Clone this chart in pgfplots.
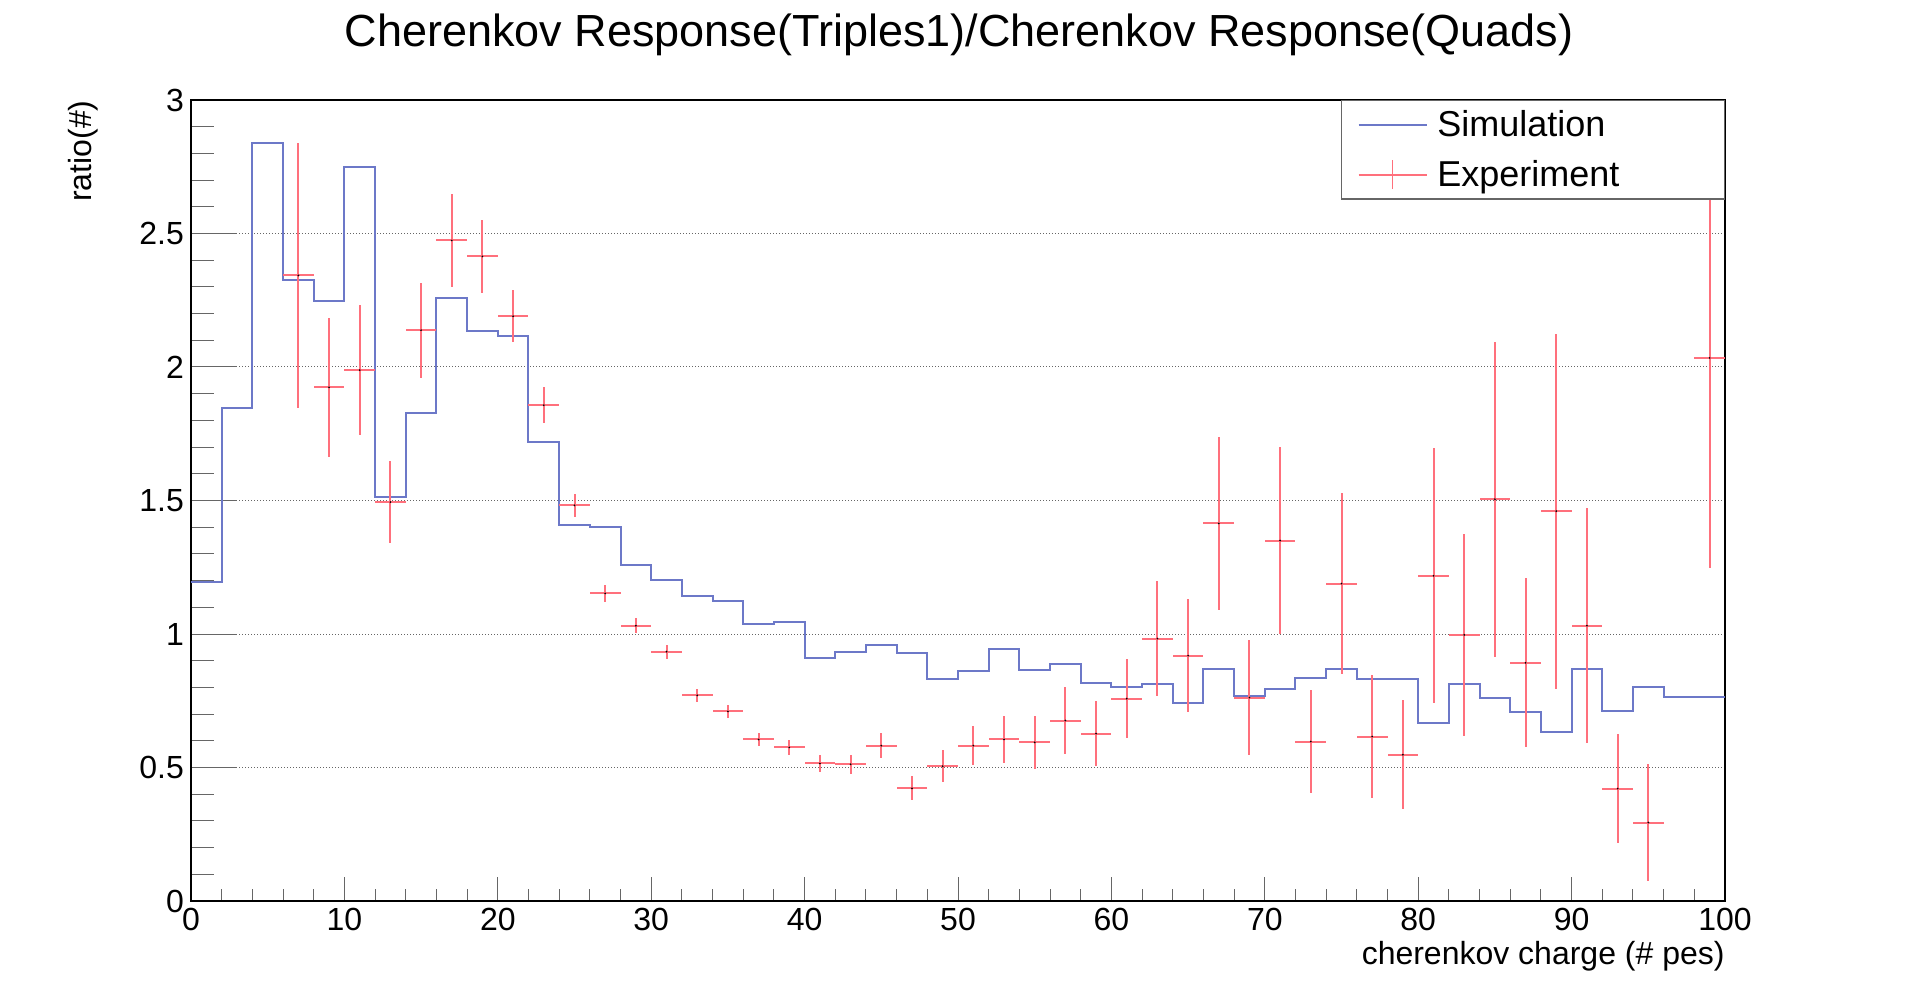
\documentclass[border=0pt]{standalone}
\usepackage{pgfplots}
\pgfplotsset{compat=1.18}
\usepackage{pgfplotstable}
\usepackage{fontspec}
\setmainfont{Liberation Sans}
\definecolor{simblue}{RGB}{108,120,200}
\definecolor{expred}{RGB}{255,112,124}

\pgfplotstableread{
x y
0 1.196
2 1.845
4 2.840
6 2.324
8 2.246
10 2.749
12 1.512
14 1.827
16 2.259
18 2.133
20 2.115
22 1.718
24 1.407
26 1.402
28 1.259
30 1.203
32 1.143
34 1.124
36 1.036
38 1.044
40 0.911
42 0.934
44 0.960
46 0.930
48 0.833
50 0.863
52 0.942
54 0.867
56 0.888
58 0.815
60 0.803
62 0.811
64 0.743
66 0.870
68 0.766
70 0.795
72 0.837
74 0.870
76 0.832
78 0.832
80 0.667
82 0.813
84 0.761
86 0.708
88 0.634
90 0.868
92 0.711
94 0.801
96 0.765
98 0.765
100 0.765
}\simdata

\pgfplotstableread{
x y ex ey
7 2.343 1 0.495
9 1.924 1 0.261
11 1.988 1 0.243
13 1.494 1 0.153
15 2.138 1 0.178
17 2.474 1 0.173
19 2.414 1 0.135
21 2.190 1 0.097
23 1.857 1 0.067
25 1.482 1 0.044
27 1.152 1 0.031
29 1.031 1 0.028
31 0.934 1 0.026
33 0.770 1 0.024
35 0.710 1 0.024
37 0.605 1 0.024
39 0.575 1 0.028
41 0.515 1 0.030
43 0.512 1 0.036
45 0.582 1 0.047
47 0.422 1 0.045
49 0.505 1 0.060
51 0.582 1 0.074
53 0.605 1 0.089
55 0.594 1 0.098
57 0.676 1 0.125
59 0.627 1 0.121
61 0.758 1 0.148
63 0.983 1 0.215
65 0.919 1 0.213
67 1.414 1 0.325
69 0.762 1 0.214
71 1.350 1 0.350
73 0.597 1 0.194
75 1.189 1 0.338
77 0.616 1 0.232
79 0.548 1 0.203
81 1.218 1 0.478
83 0.997 1 0.378
85 1.505 1 0.590
87 0.892 1 0.317
89 1.460 1 0.665
91 1.031 1 0.441
93 0.421 1 0.205
95 0.294 1 0.218
99 2.034 1 0.785
}\expdata

\begin{document}
\begin{tikzpicture}
\useasboundingbox (0,0) rectangle (959pt,501pt);
\begin{axis}[
  scale only axis,
  width=767pt, height=400.5pt,
  at={(95.5pt,50.5pt)}, anchor=south west,
  xmin=0, xmax=100, ymin=0, ymax=3,
  xtick={0,10,...,100},
  ytick={0,0.5,1,1.5,2,2.5,3},
  minor x tick num=4, minor y tick num=4,
  tick pos=left,
  tick align=inside,
  xtick style={/pgfplots/major tick length=12pt,/pgfplots/minor tick length=6pt,black!60,line width=0.5pt},
  ytick style={/pgfplots/major tick length=23pt,/pgfplots/minor tick length=11.5pt,black!60,line width=0.5pt},
  axis line style={black,line width=0.65pt},
  ymajorgrids,
  major grid style={black!60,line width=0.5pt,dash pattern=on 0.5pt off 1pt},
  tick label style={font=\fontsize{16}{19}\selectfont},
  /pgf/number format/assume math mode=true,
  yticklabel style={/pgf/number format/fixed},
  xlabel={cherenkov charge (\# pes)},
  xlabel style={at={(axis description cs:1,-0.0799)},anchor=base east,inner sep=0pt,font=\fontsize{16}{19}\selectfont},
  ylabel={ratio(\#)},
  ylabel style={at={(axis description cs:-0.0647,1)},anchor=base east,inner sep=0pt,font=\fontsize{16}{19}\selectfont},
  legend cell align=left,
  legend style={at={(1,1)},anchor=north east,draw=black!60,line width=0.6pt,fill=white,
    font=\fontsize{18}{21.6}\selectfont,inner xsep=8pt,inner ysep=2.9pt,row sep=6.4pt,column sep=3pt},
]
\addplot[const plot, simblue, line width=1pt,
  legend image code/.code={\draw[simblue,line width=0.9pt] (0pt,0pt) -- (34pt,0pt);}]
  table[x=x,y=y] {\simdata};
\addlegendentry{\raisebox{0pt}[13pt][0pt]{\makebox[133.5pt][l]{Simulation}}}
\addplot[only marks, mark=*, mark size=0.2pt, mark options={black},
  legend image code/.code={\draw[expred,line width=0.9pt] (0pt,0pt) -- (34pt,0pt); \draw[expred,line width=0.9pt] (17pt,-7.25pt) -- (17pt,7.25pt);},
  error bars/.cd, x dir=both, x explicit, y dir=both, y explicit,
  error bar style={expred,line width=1pt}, error mark=none]
  table[x=x,y=y,x error=ex,y error=ey] {\expdata};
\addlegendentry{\raisebox{0pt}[13pt][0pt]{\makebox[133.5pt][l]{Experiment}}}
\end{axis}
\node[anchor=base,inner sep=0pt,font=\fontsize{22.5}{27}\selectfont] at (479.5pt,477.75pt) {Cherenkov Response(Triples1)/Cherenkov Response(Quads)};
\end{tikzpicture}
\end{document}
